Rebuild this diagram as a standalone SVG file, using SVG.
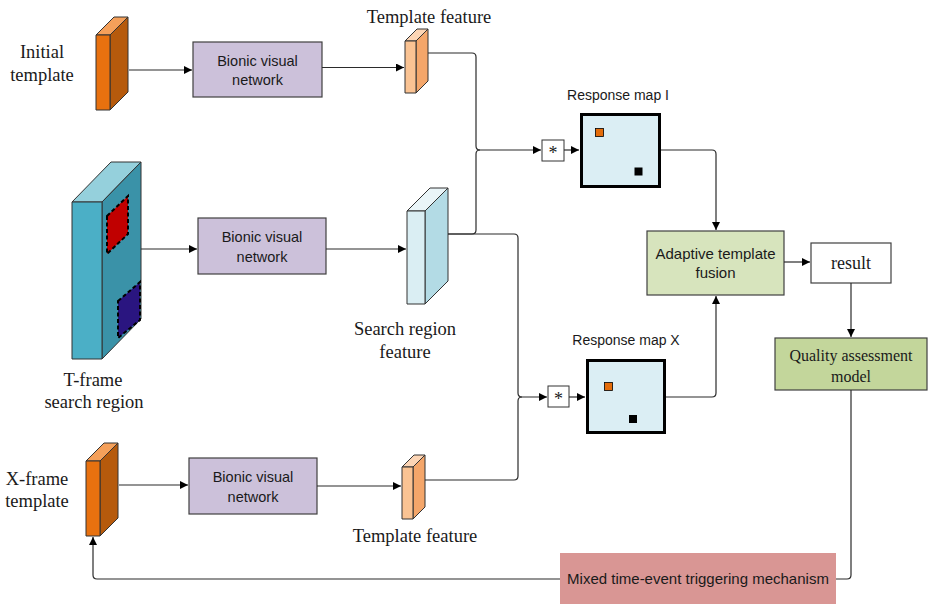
<svg xmlns="http://www.w3.org/2000/svg" width="929" height="604" viewBox="0 0 929 604">
  <style>
    .serif { font-family: "Liberation Serif", "Times New Roman", serif; fill: #1a1a1a; }
    .sans { font-family: "Liberation Sans", Arial, sans-serif; fill: #1a1a1a; }
    .lbl { font-size: 18.5px; text-anchor: middle; }
    .box { stroke: #404040; stroke-width: 1.2; }
    .bionic { fill: #CCC1DA; }
    .bt { font-size: 14.5px; text-anchor: middle; }
    .edge { fill: none; stroke: #2b2b2b; stroke-width: 1.2; }
    .face { stroke: #333; stroke-width: 1; stroke-linejoin: round; }
    .rmap { fill: #DBEEF4; stroke: #000; stroke-width: 3; }
  </style>
  <defs>
    <marker id="arrow" viewBox="0 0 10 10" refX="10" refY="5" markerWidth="8" markerHeight="8" markerUnits="userSpaceOnUse" orient="auto">
      <path d="M0,0 L10,5 L0,10 z" fill="#000"/>
    </marker>
  </defs>

  <!-- Initial template -->
  <g id="initial-template">
    <polygon class="face" points="96,35 114,17 128,17 110,35" fill="#F5A05A"/>
    <polygon class="face" points="110,35 128,17 128,92 110,110" fill="#B65A0C"/>
    <rect class="face" x="96" y="35" width="14" height="75" fill="#E8710F"/>
    <text class="serif lbl" x="42" y="58">Initial</text>
    <text class="serif lbl" x="42" y="81">template</text>
  </g>

  <g id="bionic-1">
    <rect class="box bionic" x="193" y="42" width="129" height="55"/>
    <text class="sans bt" x="257.5" y="66">Bionic visual</text>
    <text class="sans bt" x="257.5" y="85">network</text>
  </g>

  <g id="template-feature-1">
    <polygon class="face" points="405,41 417,29 428,29 416,41" fill="#FCD5B5"/>
    <polygon class="face" points="416,41 428,29 428,81 416,93" fill="#F4A66A"/>
    <rect class="face" x="405" y="41" width="11" height="52" fill="#FAC393"/>
    <text class="serif lbl" x="429" y="23">Template feature</text>
  </g>

  <!-- T-frame search region -->
  <g id="t-frame">
    <polygon class="face" points="72,202 111,162 141,162 102,202" fill="#95D0DC"/>
    <polygon class="face" points="102,202 141,162 141,319 102,359" fill="#3A92A8"/>
    <rect class="face" x="72" y="202" width="30" height="157" fill="#4BAFC6"/>
    <polygon points="107,216 128,196 128,234 107,254" fill="#C00000" stroke="#000" stroke-width="2" stroke-dasharray="4,2.5"/>
    <polygon points="118,301 140,282 140,320 118,338" fill="#2A1580" stroke="#000" stroke-width="2" stroke-dasharray="4,2.5"/>
    <text class="serif lbl" x="93" y="386">T-frame</text>
    <text class="serif lbl" x="94" y="408">search region</text>
  </g>

  <g id="bionic-2">
    <rect class="box bionic" x="198" y="218" width="128" height="56"/>
    <text class="sans bt" x="262" y="242">Bionic visual</text>
    <text class="sans bt" x="262" y="262">network</text>
  </g>

  <g id="search-feature">
    <polygon class="face" points="407,211 430,188 448,188 425,211" fill="#EAF5F8"/>
    <polygon class="face" points="425,211 448,188 448,281 425,304" fill="#B3DBE5"/>
    <rect class="face" x="407" y="211" width="18" height="93" fill="#DAEEF3"/>
    <text class="serif lbl" x="405" y="335">Search region</text>
    <text class="serif lbl" x="405" y="358">feature</text>
  </g>

  <!-- X-frame template -->
  <g id="x-frame">
    <polygon class="face" points="86,461 104,443 118,443 100,461" fill="#F5A05A"/>
    <polygon class="face" points="100,461 118,443 118,518 100,536" fill="#B65A0C"/>
    <rect class="face" x="86" y="461" width="14" height="75" fill="#E8710F"/>
    <text class="serif lbl" x="37" y="485">X-frame</text>
    <text class="serif lbl" x="37" y="507">template</text>
  </g>

  <g id="bionic-3">
    <rect class="box bionic" x="189" y="458" width="128" height="56"/>
    <text class="sans bt" x="253" y="482">Bionic visual</text>
    <text class="sans bt" x="253" y="502">network</text>
  </g>

  <g id="template-feature-3">
    <polygon class="face" points="402,467 414,455 425,455 413,467" fill="#FCD5B5"/>
    <polygon class="face" points="413,467 425,455 425,507 413,519" fill="#F4A66A"/>
    <rect class="face" x="402" y="467" width="11" height="52" fill="#FAC393"/>
    <text class="serif lbl" x="415" y="542">Template feature</text>
  </g>

  <!-- correlation operators -->
  <g id="corr-1">
    <rect x="542" y="140" width="22" height="21" fill="#fff" stroke="#333" stroke-width="1"/>
    <text class="serif" x="553" y="159" font-size="18" text-anchor="middle">*</text>
  </g>
  <g id="corr-2">
    <rect x="548" y="386" width="21" height="21" fill="#fff" stroke="#333" stroke-width="1"/>
    <text class="serif" x="558.5" y="405" font-size="18" text-anchor="middle">*</text>
  </g>

  <g id="response-map-i">
    <rect class="rmap" x="581.5" y="114.5" width="78" height="72"/>
    <rect x="595.5" y="128.5" width="8" height="8" fill="#E46C0A" stroke="#000" stroke-width="0.8"/>
    <rect x="634.5" y="167.5" width="8" height="8" fill="#000"/>
    <text class="sans" x="618" y="100" font-size="14" text-anchor="middle">Response map I</text>
  </g>

  <g id="response-map-x">
    <rect class="rmap" x="587.5" y="360.5" width="77" height="72"/>
    <rect x="604.5" y="382.5" width="8" height="8" fill="#E46C0A" stroke="#000" stroke-width="0.8"/>
    <rect x="629" y="415" width="8" height="8" fill="#000"/>
    <text class="sans" x="626" y="345" font-size="14" text-anchor="middle">Response map X</text>
  </g>

  <g id="adaptive-fusion">
    <rect class="box" x="647" y="231" width="137" height="64" fill="#D7E4BD"/>
    <text class="sans" x="715.5" y="259" font-size="15" text-anchor="middle">Adaptive template</text>
    <text class="sans" x="715.5" y="278" font-size="15" text-anchor="middle">fusion</text>
  </g>

  <g id="result">
    <rect class="box" x="811" y="243" width="80" height="40" fill="#fff"/>
    <text class="serif" x="851" y="269" font-size="18" text-anchor="middle">result</text>
  </g>

  <g id="quality-model">
    <rect class="box" x="775" y="338" width="152" height="52" fill="#C3D69B"/>
    <text class="serif" x="851" y="361" font-size="16" text-anchor="middle">Quality assessment</text>
    <text class="serif" x="851" y="382" font-size="16" text-anchor="middle">model</text>
  </g>

  <g id="trigger">
    <rect x="560" y="553" width="276" height="52" fill="#D99694"/>
    <text class="sans" x="698" y="584" font-size="15" text-anchor="middle">Mixed time-event triggering mechanism</text>
  </g>

  <!-- connectors -->
  <g id="connectors">
    <path class="edge" d="M129,70 H192" marker-end="url(#arrow)"/>
    <path class="edge" d="M322,67.5 H404" marker-end="url(#arrow)"/>
    <path class="edge" d="M141,249 H197" marker-end="url(#arrow)"/>
    <path class="edge" d="M326,249 H406" marker-end="url(#arrow)"/>
    <path class="edge" d="M119,485 H188" marker-end="url(#arrow)"/>
    <path class="edge" d="M317,486 H401" marker-end="url(#arrow)"/>

    <path class="edge" d="M428,53 H472 Q476,53 476,57 V146 Q476,150 480,150 H541" marker-end="url(#arrow)"/>
    <path class="edge" d="M448,234 H472 Q476,234 476,230 V154 Q476,150 480,150"/>
    <path class="edge" d="M448,234 H514 Q518,234 518,238 V393 Q518,397 522,397 H547" marker-end="url(#arrow)"/>
    <path class="edge" d="M425,480 H514 Q518,480 518,476 V401 Q518,397 522,397"/>

    <path class="edge" d="M564,150 H579" marker-end="url(#arrow)"/>
    <path class="edge" d="M569,397 H585" marker-end="url(#arrow)"/>

    <path class="edge" d="M661,150 H712 Q716,150 716,154 V230" marker-end="url(#arrow)"/>
    <path class="edge" d="M666,397 H712 Q716,397 716,393 V296" marker-end="url(#arrow)"/>
    <path class="edge" d="M784,262 H810" marker-end="url(#arrow)"/>
    <path class="edge" d="M851,283 V337" marker-end="url(#arrow)"/>
    <path class="edge" d="M851,390 V575 Q851,579 847,579 H836"/>
    <path class="edge" d="M560,579 H97 Q93,579 93,575 V537" marker-end="url(#arrow)"/>
  </g>
</svg>
